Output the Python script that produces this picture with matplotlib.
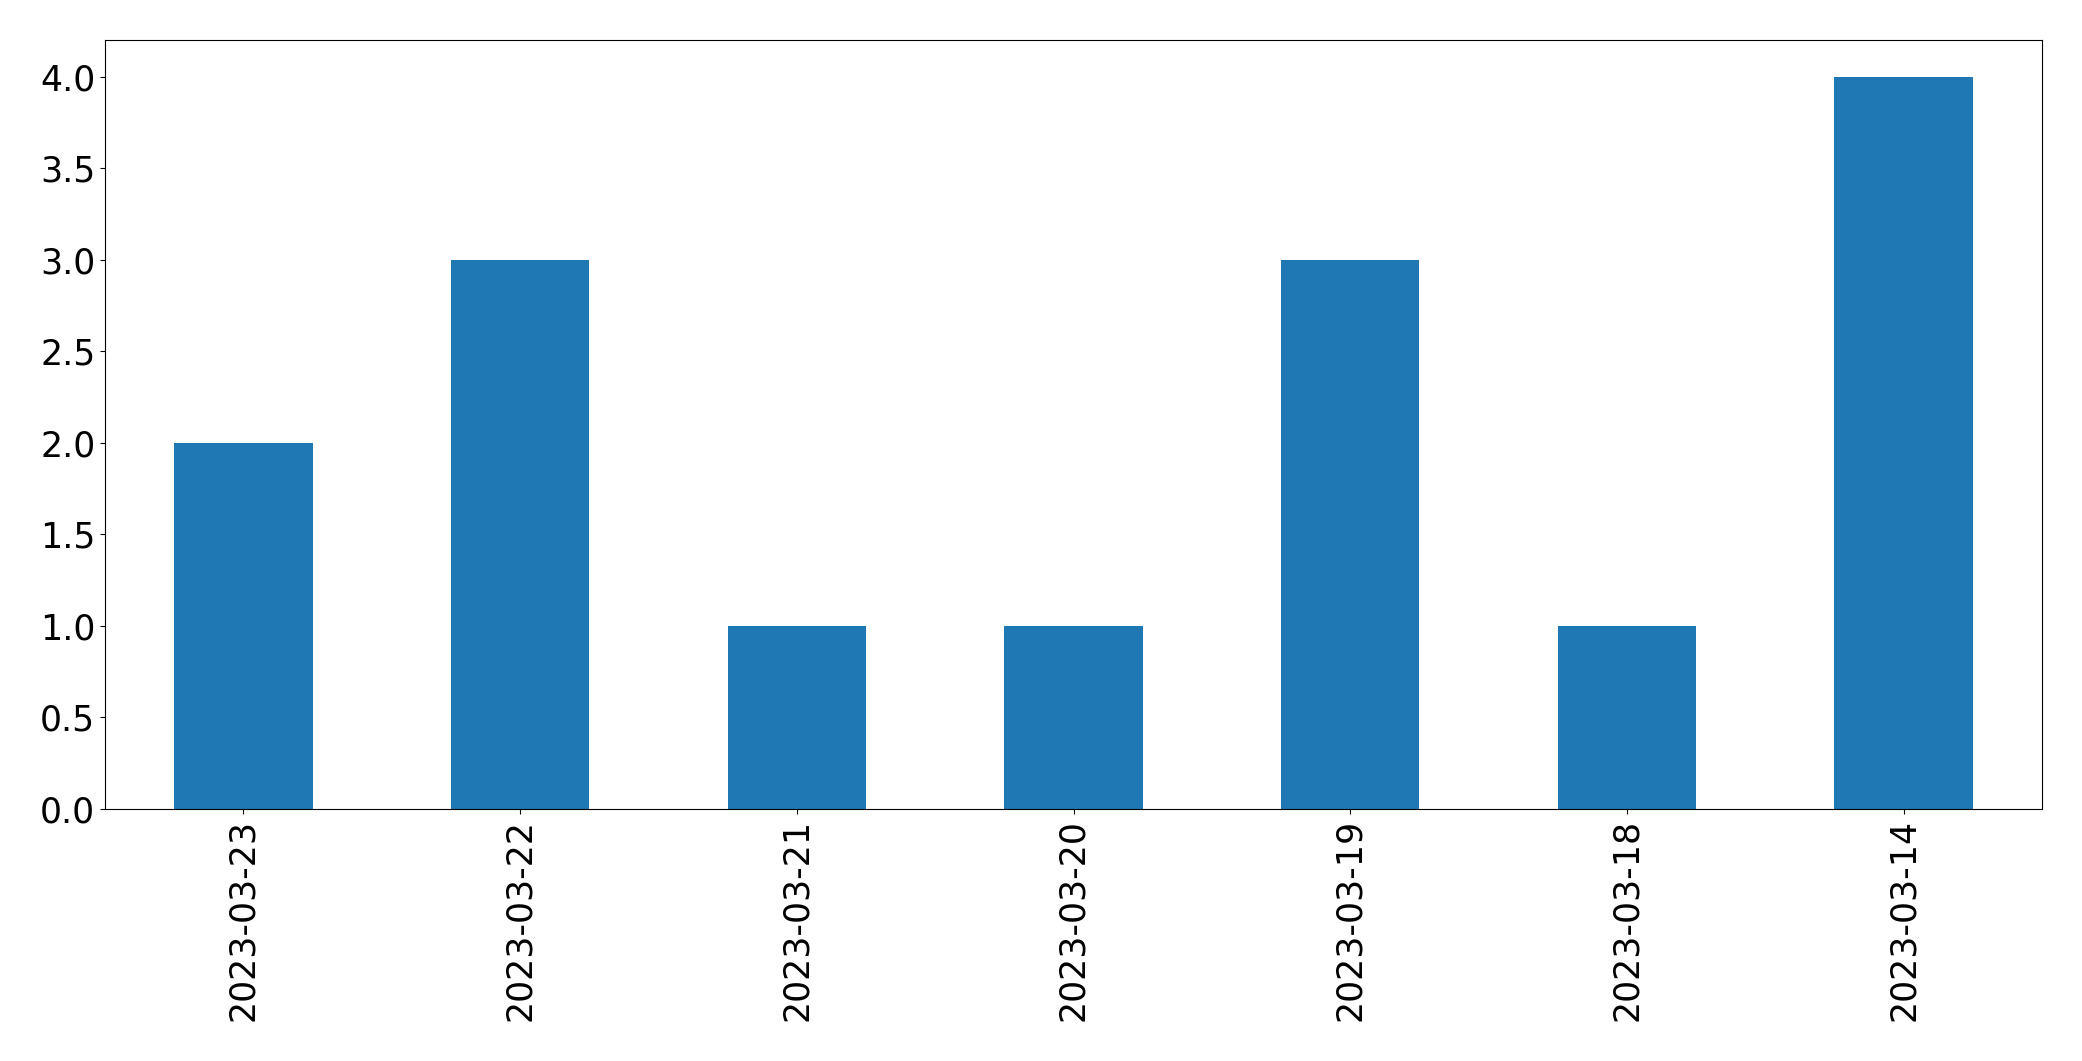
import pandas as pd
from matplotlib import pyplot as plt

fechas = ["2023-03-23", "2023-03-22", "2023-03-21", "2023-03-20",
          "2023-03-19", "2023-03-18", "2023-03-14"]
conteos = [2, 3, 1, 1, 3, 1, 4]

serie = pd.Series(conteos, index=fechas)

fig = plt.figure(figsize=(20.82, 10.61), dpi=100)
ax = fig.add_axes([105 / 2082, 1 - 809 / 1061, (2042 - 105) / 2082, (809 - 40) / 1061])
serie.plot(kind="bar", ax=ax, color="#1f77b4")
ax.tick_params(axis="both", labelsize=25)
plt.xticks(rotation=90)

fig.savefig("out.png", dpi=100)
